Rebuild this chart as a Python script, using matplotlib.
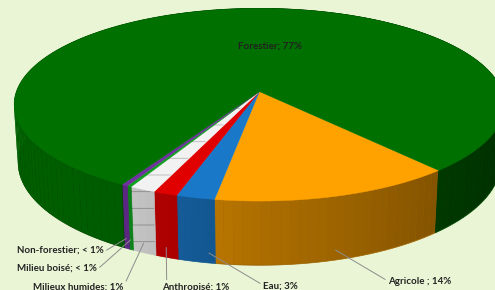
import numpy as np
import matplotlib.pyplot as plt
from matplotlib.colors import to_rgb
from mpl_toolkits.mplot3d import proj3d
from mpl_toolkits.mplot3d.art3d import Poly3DCollection

# land-use shares, drawn clockwise starting from the right-hand edge
categories = ['Agricole', 'Eau', 'Anthropisé', 'Milieux humides',
              'Milieu boisé', 'Non-forestier', 'Forestier']
shares = [13.6, 2.15, 1.35, 1.45, 0.25, 0.35, 77.4]
labels = ['Agricole ; 14%', 'Eau; 3%', 'Anthropisé; 1%', 'Milieux humides; 1%',
          'Milieu boisé; < 1%', 'Non-forestier; < 1%', 'Forestier; 77%']
colors = ['#ffa200', '#1a78c8', '#e00000', '#f2f2f2', '#10a020', '#7030a0', '#007000']

BG = '#eaf5d5'
START = -48.5      # degrees, edge between Forestier and Agricole
DEPTH = 0.26       # height of the pie wall, radius = 1
CLEAR = (0, 0, 0, 0)

plt.rcParams['font.family'] = ['Lato', 'DejaVu Sans']
plt.rcParams['hatch.linewidth'] = 0.6


def shade(deg):
    d = np.mod(deg, 360)
    return np.interp(d, [0, 90, 180, 240, 270, 315, 360],
                     [0.35, 0.6, 0.85, 0.82, 0.68, 0.5, 0.35])


def rim(a0, a1, z=0.0):
    n = max(2, int(abs(a1 - a0) / 2) + 2)
    t = np.radians(np.linspace(a0, a1, n))
    return t, [(np.cos(v), np.sin(v), z) for v in t]


fig = plt.figure(figsize=(4.95, 2.9), dpi=100)
fig.patch.set_facecolor(BG)
ax = fig.add_axes([-0.245, -0.597, 1.5, 2.29], projection='3d', computed_zorder=False)
ax.set_proj_type('persp', focal_length=0.45)
ax.view_init(elev=24, azim=-90)
ax.set_xlim(-1, 1)
ax.set_ylim(-1, 1)
ax.set_zlim(-0.28, 0)
ax.set_box_aspect((2, 2, 0.28))
ax.set_axis_off()
ax.patch.set_alpha(0)

frac = np.array(shares) / np.sum(shares)
edges = START - 360 * np.concatenate([[0], np.cumsum(frac)])

# side walls: flat underlayer, then shaded strips on top
for i, c in enumerate(colors):
    a0, a1 = edges[i], edges[i + 1]
    t, top = rim(a0, a1)
    _, bottom = rim(a0, a1, -DEPTH)
    base = np.array(to_rgb(c))
    mean_c = np.clip(base * shade((a0 + a1) / 2), 0, 1)
    ax.add_collection3d(Poly3DCollection([top + bottom[::-1]], facecolors=[mean_c],
                                         edgecolors=[mean_c], linewidths=0.5))
    quads, fcs = [], []
    for k in range(len(t) - 1):
        quads.append([top[k], top[k + 1], bottom[k + 1], bottom[k]])
        fcs.append(np.clip(base * shade(np.degrees((t[k] + t[k + 1]) / 2)), 0, 1))
    ax.add_collection3d(Poly3DCollection(quads, facecolors=fcs, linewidths=0))
    if categories[i] == 'Milieux humides':
        ax.add_collection3d(Poly3DCollection([top + bottom[::-1]], facecolors=CLEAR,
                                             edgecolors='#8a8a8a', linewidths=0, hatch='-'))

# top faces
for i, c in enumerate(colors):
    _, arc = rim(edges[i], edges[i + 1])
    poly = [(0, 0, 0)] + arc
    ax.add_collection3d(Poly3DCollection([poly], facecolors=c, edgecolors=c, linewidths=0.3))
    if categories[i] == 'Milieux humides':
        ax.add_collection3d(Poly3DCollection([poly], facecolors=CLEAR, edgecolors='#b8b8b8',
                                             linewidths=0, hatch='-'))

fig.canvas.draw()
M = ax.get_proj()

# label text positions (figure pixels), leader start on the text box,
# and where along the slice the leader ends
label_pos = {
    'Agricole': (388, 8, (0, 0.6), 0.5),
    'Eau': (263, 4, (0, 0.6), 0.15),
    'Anthropisé': (162, 3, (0.07, 1), 0.5),
    'Milieux humides': (33, 3, (1, 0.5), 0.5),
    'Milieu boisé': (17, 22, (1, 0.3), 0.5),
    'Non-forestier': (17, 40, (1, 0.3), 0.5),
}
txt = dict(fontsize=7, fontweight='bold', color='#222222')
for i, name in enumerate(categories):
    if name not in label_pos:
        continue
    tx, ty, rel, along = label_pos[name]
    ang = np.radians(edges[i] + along * (edges[i + 1] - edges[i]))
    x2, y2, _ = proj3d.proj_transform(np.cos(ang), np.sin(ang), -0.85 * DEPTH, M)
    ax.annotate(labels[i], xy=(x2, y2), xycoords='data', xytext=(tx, ty),
                textcoords='figure pixels', ha='left', va='center', annotation_clip=False,
                arrowprops=dict(arrowstyle='-', color='#8c8c8c', lw=0.7,
                                shrinkA=0, shrinkB=0, relpos=rel), **txt)

fig.text(270, 244, labels[-1], transform=None, ha='center', va='center', **txt)

fig.savefig('out.png', dpi=100, facecolor=BG)
